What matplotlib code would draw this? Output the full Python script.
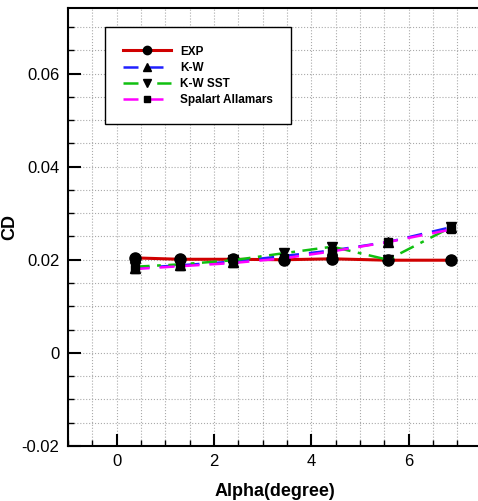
import matplotlib.pyplot as plt
from matplotlib.ticker import MultipleLocator

plt.rcParams['font.family'] = ['Liberation Sans', 'DejaVu Sans']

# angle of attack (deg)
alpha = [0.37, 1.30, 2.40, 3.43, 4.43, 5.57, 6.87]

cd_exp = [0.0204, 0.0201, 0.0201, 0.0200, 0.0202, 0.0199, 0.0199]
cd_kw = [0.0182, 0.0188, 0.0196, 0.0208, 0.0220, 0.0238, 0.0270]
cd_sst = [0.0185, 0.0190, 0.0199, 0.0214, 0.0228, 0.0200, 0.0270]
cd_sa = [0.0180, 0.0186, 0.0193, 0.0203, 0.0218, 0.0238, 0.0265]

fig = plt.figure(figsize=(4.78, 5.01), dpi=100)
ax = fig.add_axes([0.142, 0.11, 0.866, 0.875])

ax.plot(alpha, cd_exp, color='#d00000', lw=2.2, marker='o', ms=8,
        mfc='black', mec='black', label='EXP', zorder=3)
ax.plot(alpha, cd_kw, color='#2020ff', lw=1.8, ls=(0, (6, 4)), marker='^', ms=7,
        mfc='black', mec='black', label='K-W', zorder=4)
ax.plot(alpha, cd_sst, color='#10c010', lw=1.8, ls=(0, (6, 3, 1.5, 3)), marker='v', ms=7,
        mfc='black', mec='black', label='K-W SST', zorder=4)
ax.plot(alpha, cd_sa, color='#ff00ff', lw=1.8, ls=(0, (6, 4)), marker='s', ms=6,
        mfc='black', mec='black', label='Spalart Allamars', zorder=5)

ax.set_xlim(-1, 7.5)
ax.set_ylim(-0.02, 0.0742)
ax.xaxis.set_major_locator(MultipleLocator(2))
ax.xaxis.set_minor_locator(MultipleLocator(0.5))
ax.yaxis.set_major_locator(MultipleLocator(0.02))
ax.yaxis.set_minor_locator(MultipleLocator(0.005))
ax.yaxis.set_major_formatter(plt.FuncFormatter(lambda v, p: '0' if abs(v) < 1e-9 else f'{v:g}'))

ax.grid(which='both', color='#aaaaaa', ls=':', lw=0.8)
ax.tick_params(which='major', direction='in', length=9, width=1.5, labelsize=12, pad=6)
ax.tick_params(which='minor', direction='in', length=4, width=1)
ax.spines['right'].set_visible(False)
for s in ['left', 'bottom', 'top']:
    ax.spines[s].set_linewidth(1.5)

ax.set_xlabel('Alpha(degree)', fontsize=13, fontweight='bold', labelpad=10)
ax.set_ylabel('CD', fontsize=13, fontweight='bold')
ax.yaxis.set_label_coords(-0.12, 0.5)

leg = ax.legend(loc='upper left', bbox_to_anchor=(0.089, 0.955), fancybox=False,
                edgecolor='black', framealpha=1, handlelength=4.1, handletextpad=0.75,
                borderpad=1.55, borderaxespad=0, labelspacing=0.35, markerscale=0.75,
                prop={'weight': 'bold', 'size': 8.5})
leg.get_frame().set_linewidth(1)

fig.savefig('out.png', dpi=100)
